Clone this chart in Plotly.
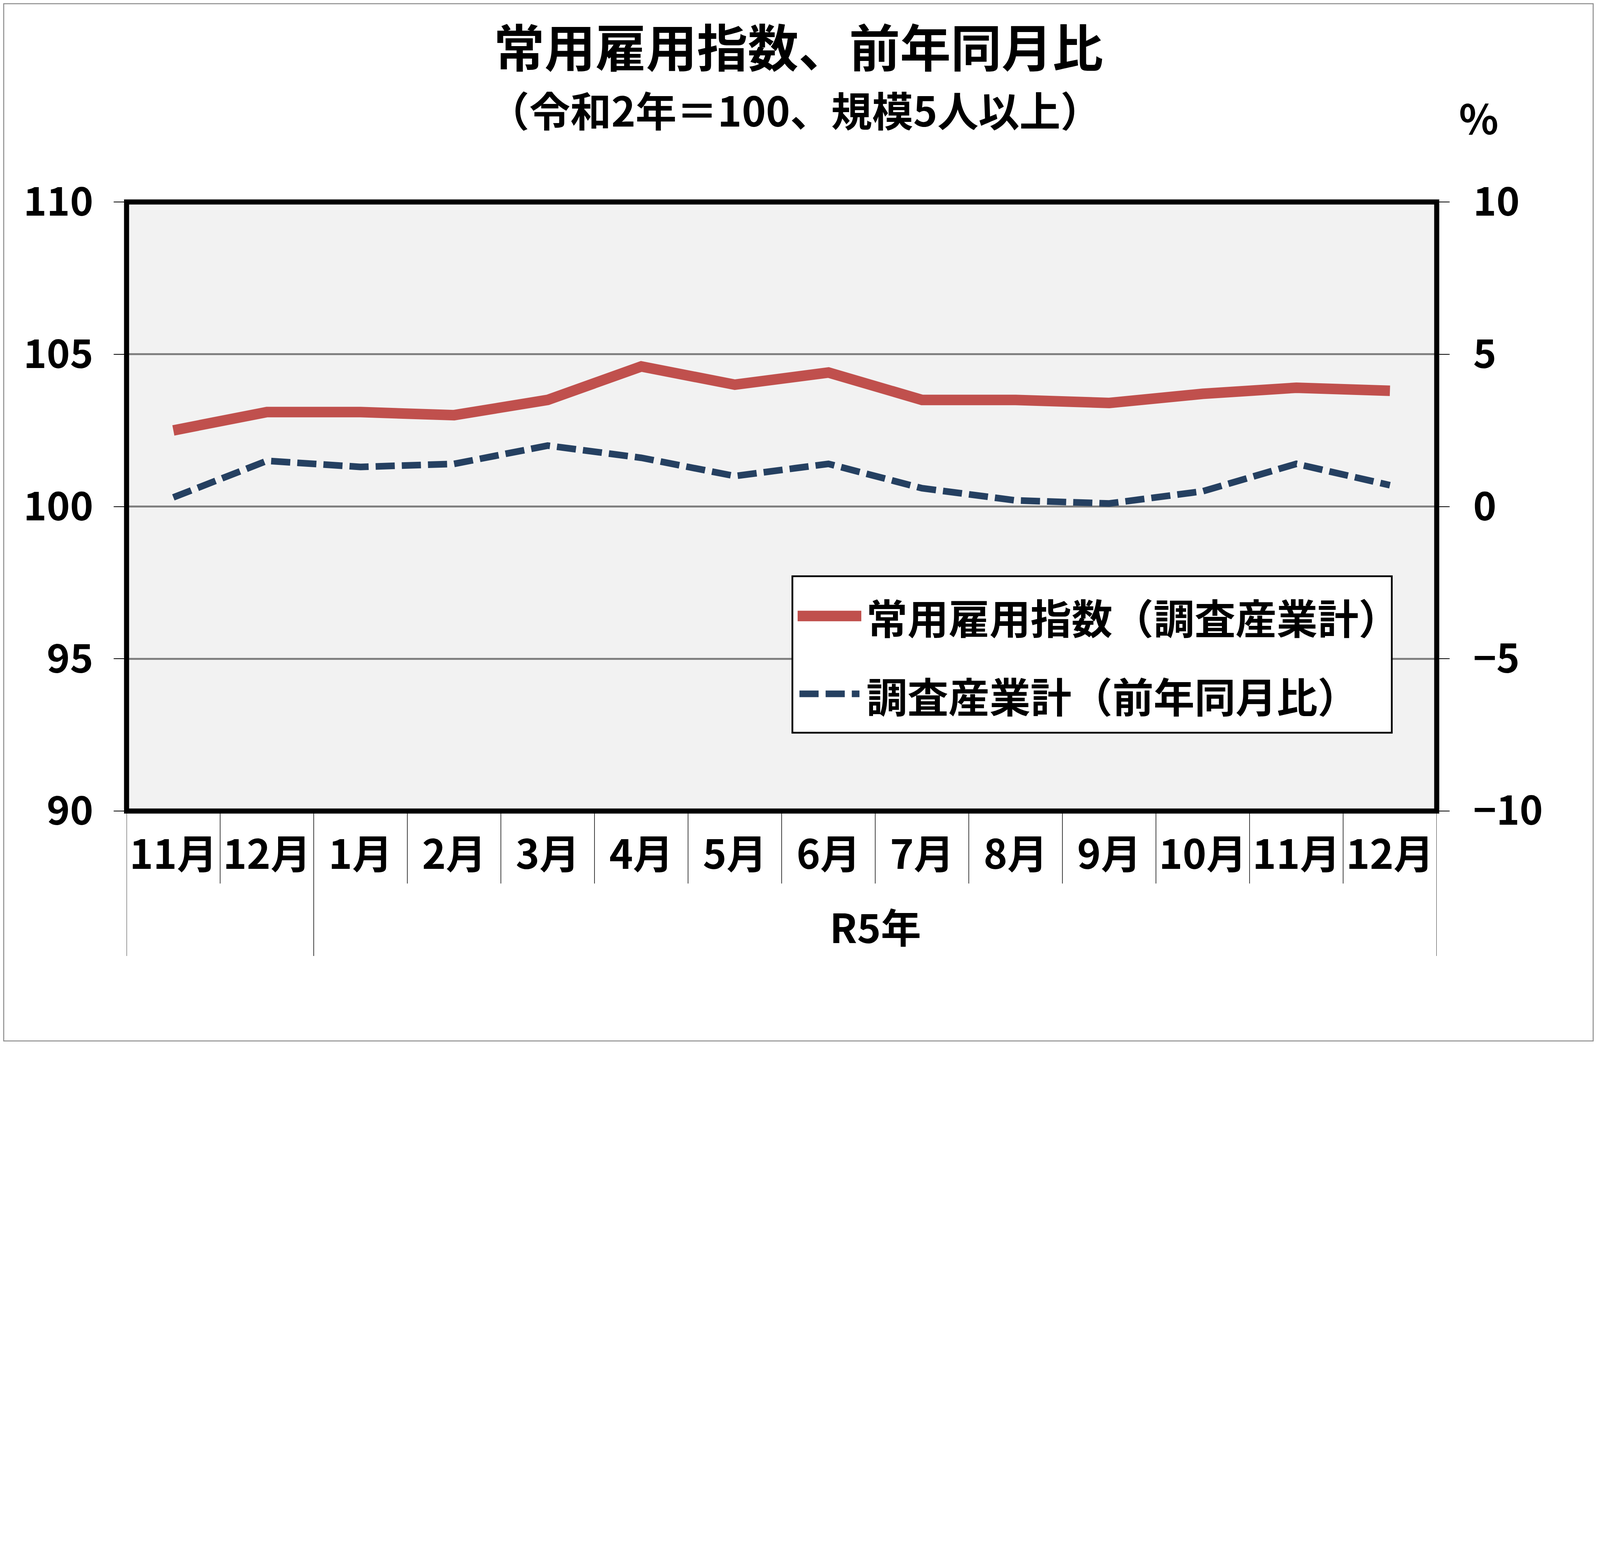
import plotly.graph_objs as go

# 調査産業計, 規模5人以上 (令和2年=100)
months = ['11月', '12月', '1月', '2月', '3月', '4月', '5月', '6月',
          '7月', '8月', '9月', '10月', '11月', '12月']
group_labels = ['', 'R5年']   # year label under each block of months
group_sizes = [2, 12]
employment_index = [102.5, 103.1, 103.1, 103.0, 103.5, 104.6, 104.0, 104.4,
                    103.5, 103.5, 103.4, 103.7, 103.9, 103.8]
yoy_change = [0.3, 1.5, 1.3, 1.4, 2.0, 1.6, 1.0, 1.4,
              0.6, 0.2, 0.1, 0.5, 1.4, 0.7]

index_name = '常用雇用指数（調査産業計）'
yoy_name = '調査産業計（前年同月比）'

RED = '#C0504D'
NAVY = '#254061'
FONT = 'Noto Sans CJK JP'

# the browser page is only ~4096 px wide, so keep the chart's shape and fit it
W, H = 4072, 2658
M = dict(l=316, r=402, t=509, b=590)
PW = W - M['l'] - M['r']
PH = H - M['t'] - M['b']

x = list(range(len(months)))

fig = go.Figure()
fig.add_trace(go.Scatter(x=x, y=employment_index, name=index_name,
                         mode='lines', line=dict(color=RED, width=27),
                         yaxis='y'))
fig.add_trace(go.Scatter(x=x, y=yoy_change, name=yoy_name,
                         mode='lines',
                         line=dict(color=NAVY, width=17, dash='49px,18px'),
                         yaxis='y2'))

shapes = []
# separators under the month labels (short) and between year blocks (long)
group_edges = [-0.5]
for size in group_sizes:
    group_edges.append(group_edges[-1] + size)
for i in range(len(months) + 1):
    b = i - 0.5
    low = -0.238 if b in group_edges else -0.119
    shapes.append(dict(type='line', xref='x', yref='paper', x0=b, x1=b,
                       y0=0, y1=low, line=dict(color='black', width=1.5)))

# plot area frame
shapes.append(dict(type='rect', xref='paper', yref='paper', x0=0, x1=1,
                   y0=0, y1=1, line=dict(color='black', width=13),
                   layer='above'))
# chart frame
shapes.append(dict(type='rect', xref='paper', yref='paper',
                   x0=-(M['l'] - 1.5) / PW, x1=1 + (M['r'] - 1.5) / PW,
                   y0=-(M['b'] - 1.5) / PH, y1=1 + (M['t'] - 1.5) / PH,
                   line=dict(color='#8C8C8C', width=2.5)))

# legend box drawn by hand (long sample lines like the original)
shapes.append(dict(type='rect', xref='paper', yref='paper',
                   x0=0.5082, x1=0.9657, y0=0.1286, y1=0.3855,
                   fillcolor='white', line=dict(color='black', width=4.5),
                   layer='above'))
shapes.append(dict(type='line', xref='paper', yref='paper',
                   x0=0.5122, x1=0.5608, y0=0.3203, y1=0.3203,
                   line=dict(color=RED, width=27), layer='above'))
shapes.append(dict(type='line', xref='paper', yref='paper',
                   x0=0.5136, x1=0.5594, y0=0.1925, y1=0.1925,
                   line=dict(color=NAVY, width=17, dash='49px,18px'),
                   layer='above'))

annotations = [
    dict(text='（令和2年＝100、規模5人以上）', xref='paper', yref='paper',
         x=0.510, y=1.1536, showarrow=False, xanchor='center',
         yanchor='middle', font=dict(size=105, weight='bold')),
    dict(text='%', xref='paper', yref='paper', x=1.032, y=1.1407,
         showarrow=False, xanchor='center', yanchor='middle',
         font=dict(size=105, weight='bold')),
    dict(text=index_name, xref='paper', yref='paper', x=0.5640, y=0.3199,
         showarrow=False, xanchor='left', yanchor='middle',
         font=dict(size=105, weight='bold')),
    dict(text=yoy_name, xref='paper', yref='paper', x=0.5640, y=0.1912,
         showarrow=False, xanchor='left', yanchor='middle',
         font=dict(size=105, weight='bold')),
]
start = 0
for label, size in zip(group_labels, group_sizes):
    if label:
        annotations.append(dict(text=label, xref='x', yref='paper',
                                x=start + (size - 1) / 2, y=-0.188,
                                showarrow=False, xanchor='center',
                                yanchor='middle',
                                font=dict(size=103, weight='bold')))
    start += size

fig.update_layout(
    width=W, height=H,
    margin=M,
    paper_bgcolor='white',
    plot_bgcolor='#F2F2F2',
    font=dict(family=FONT, color='black', size=100, weight='bold'),
    showlegend=False,
    title=dict(text='常用雇用指数、前年同月比', x=0.5, xanchor='center',
               y=0.9558, yanchor='middle',
               font=dict(size=130, weight='bold')),
    xaxis=dict(range=[-0.5, len(months) - 0.5], tickvals=x, ticktext=months,
               ticks='', showgrid=False, zeroline=False, showline=False,
               tickfont=dict(size=103, weight='bold'),
               ticklabelstandoff=44),
    yaxis=dict(range=[90, 110], dtick=5, showgrid=True, gridcolor='#808080',
               gridwidth=4.7, zeroline=False, showline=False,
               ticks='outside', ticklen=32, tickwidth=2, tickcolor='black',
               tickfont=dict(size=101, weight='bold'),
               ticklabelstandoff=32),
    yaxis2=dict(range=[-10, 10], dtick=5, overlaying='y', side='right',
                showgrid=False, zeroline=False, showline=False,
                ticks='outside', ticklen=32, tickwidth=2, tickcolor='black',
                tickfont=dict(size=101, weight='bold'),
                ticklabelstandoff=40),
    shapes=shapes,
    annotations=annotations,
)

fig.write_html('out.html')
